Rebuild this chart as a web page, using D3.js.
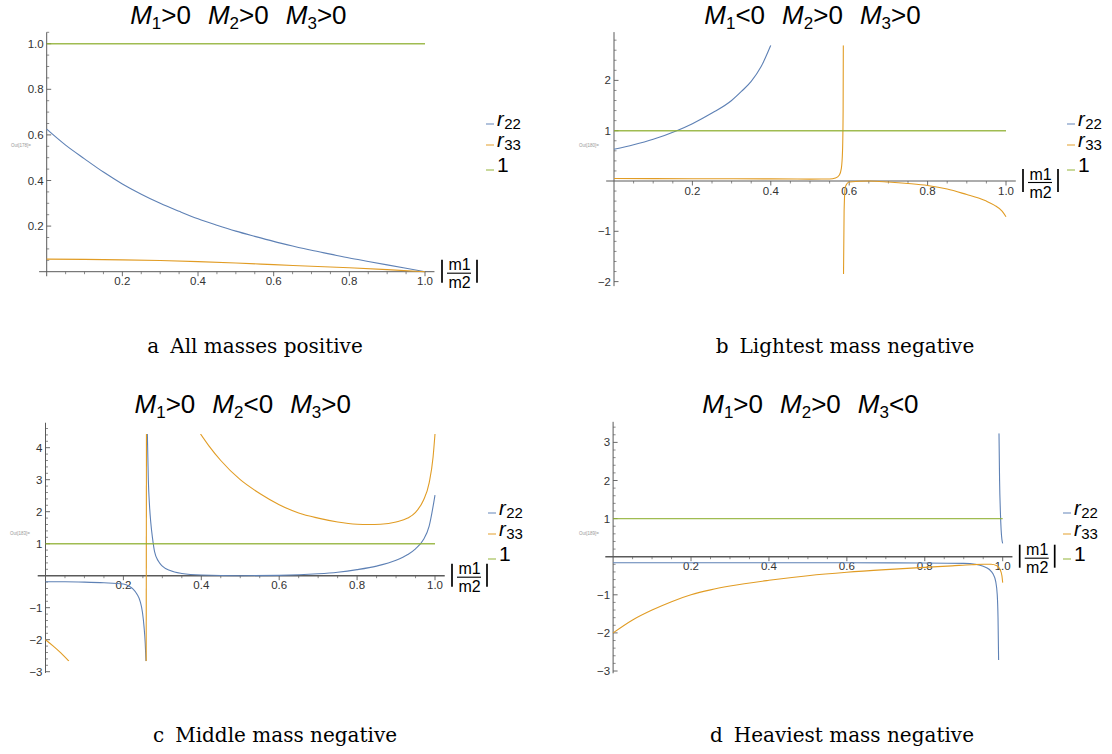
<!DOCTYPE html>
<html>
<head>
<meta charset="utf-8">
<script src="https://cdn.jsdelivr.net/npm/d3@7"></script>
<style>
  body { margin: 0; background: #fff; }
  text { font-family: "Liberation Sans", Arial, sans-serif; }
</style>
</head>
<body>
<svg id="fig" width="1112" height="754"></svg>
<script>
// ---- data ----
const xTicks = [0.2, 0.4, 0.6, 0.8, 1.0];
const yTicksA = [0.2, 0.4, 0.6, 0.8, 1.0];
const yTicksB = [-2, -1, 1, 2];
const yTicksC = [-3, -2, -1, 1, 2, 3, 4];
const yTicksD = [-3, -2, -1, 1, 2, 3];
const legendNames = ["22", "33", "1"];
const colors = ["#5e81b5", "#e19c24", "#8fb032"];

const oneLine = [[0, 1], [1, 1]];

const aR22 = [[0,0.625],[0.05,0.555],[0.1,0.495],[0.15,0.437],[0.2,0.385],[0.25,0.34],[0.3,0.3],
  [0.35,0.265],[0.4,0.232],[0.45,0.204],[0.5,0.178],[0.55,0.155],[0.6,0.133],[0.65,0.113],
  [0.7,0.094],[0.75,0.077],[0.8,0.06],[0.85,0.045],[0.9,0.03],[0.95,0.015],[1,0]];
const aR33 = [[0,0.055],[0.1,0.054],[0.2,0.052],[0.3,0.049],[0.4,0.044],[0.5,0.038],[0.6,0.031],
  [0.7,0.024],[0.8,0.017],[0.9,0.009],[1,0]];

const bR22 = [[0,0.63],[0.05,0.72],[0.1,0.83],[0.16,1.0],[0.2,1.14],[0.25,1.35],[0.3,1.6],
  [0.325,1.78],[0.35,1.98],[0.375,2.27],[0.4,2.7]];
const bR33a = [[0,0.05],[0.2,0.046],[0.4,0.042],[0.5,0.038],[0.55,0.04],[0.565,0.06],[0.575,0.12],
  [0.58,0.25],[0.583,0.6],[0.5845,1.4],[0.585,2.7]];
const bR33b = [[0.5855,-1.85],[0.587,-0.6],[0.59,-0.12],[0.6,-0.02],[0.65,0],[0.7,-0.02],[0.75,-0.05],
  [0.8,-0.09],[0.85,-0.16],[0.9,-0.27],[0.93,-0.34],[0.95,-0.4],[0.97,-0.48],[0.99,-0.6],[1.0,-0.71]];

const cR22a = [[0,-0.19],[0.05,-0.19],[0.1,-0.2],[0.15,-0.22],[0.2,-0.26],[0.215,-0.33],[0.225,-0.42],
  [0.235,-0.58],[0.243,-0.8],[0.249,-1.15],[0.253,-1.6],[0.256,-2.1],[0.258,-2.67]];
const cR22b = [[0.2615,4.43],[0.264,3.0],[0.267,2.2],[0.27,1.7],[0.275,1.15],[0.28,0.75],[0.29,0.45],
  [0.3,0.3],[0.32,0.16],[0.35,0.07],[0.4,0.02],[0.5,0.0],[0.6,0.01],[0.7,0.06],[0.75,0.11],[0.8,0.19],
  [0.85,0.3],[0.9,0.48],[0.93,0.66],[0.95,0.84],[0.97,1.12],[0.985,1.55],[1.0,2.52]];
const cR33a = [[0,-2.0],[0.02,-2.2],[0.04,-2.42],[0.06,-2.67]];
const cR33b = [[0.2585,-2.67],[0.2592,4.43]];
const cR33c = [[0.398,4.43],[0.42,4.05],[0.45,3.6],[0.5,3.0],[0.55,2.57],[0.6,2.22],[0.65,1.96],
  [0.7,1.8],[0.75,1.68],[0.8,1.61],[0.83,1.6],[0.86,1.61],[0.9,1.68],[0.93,1.8],[0.95,1.98],
  [0.97,2.35],[0.985,2.9],[0.995,3.7],[1.0,4.43]];

const dR22a = [[0,-0.16],[0.3,-0.16],[0.6,-0.16],[0.8,-0.165],[0.9,-0.175],[0.93,-0.2],[0.95,-0.25],
  [0.965,-0.33],[0.975,-0.45],[0.982,-0.65],[0.986,-1.0],[0.988,-1.6],[0.9895,-2.71]];
const dR22b = [[0.9905,3.24],[0.992,2.0],[0.994,1.2],[0.996,0.7],[0.998,0.45],[1.0,0.35]];
const dR33 = [[0,-2.0],[0.05,-1.66],[0.1,-1.4],[0.15,-1.18],[0.2,-1.0],[0.25,-0.87],[0.3,-0.77],
  [0.4,-0.62],[0.5,-0.5],[0.6,-0.41],[0.7,-0.34],[0.8,-0.28],[0.87,-0.24],[0.92,-0.21],[0.95,-0.2],
  [0.97,-0.2],[0.985,-0.24],[0.993,-0.33],[0.998,-0.5],[1.0,-0.68]];

const titleSigns = [[">", ">", ">"], ["<", ">", ">"], [">", "<", ">"], [">", ">", "<"]];
const captionLetters = ["a", "b", "c", "d"];
const captionTexts = ["All masses positive", "Lightest mass negative", "Middle mass negative", "Heaviest mass negative"];
const outLabels = ["Out[178]=", "Out[180]=", "Out[183]=", "Out[189]="];

// ---- layout ----
const panels = [
  { x0: 46.7, x1: 425, yZero: 271.7, unit: 228, yExt: [-0.02, 1.05], clip: [-0.05, 1.06],
    yTicks: yTicksA, minor: 0.05, fmt: d3.format(".1f"), axisW: 1,
    series: [[aR22], [aR33], [oneLine]], titleY: 24, capX: 255, capY: 353,
    outX: 11, outY: 147, legX: 486, legY: 124 },
  { x0: 614, x1: 1006, yZero: 181, unit: 50.3, yExt: [-2.09, 2.96], clip: [-1.85, 2.7],
    yTicks: yTicksB, minor: 0.2, fmt: null, axisW: 1,
    series: [[bR22], [bR33a, bR33b], [oneLine]], titleY: 24, capX: 845, capY: 353,
    outX: 579, outY: 147, legX: 1067, legY: 124 },
  { x0: 45.5, x1: 435, yZero: 575.7, unit: 32, yExt: [-3.04, 4.78], clip: [-2.67, 4.43],
    yTicks: yTicksC, minor: 0.2, fmt: null, axisW: 1.6,
    series: [[cR22a, cR22b], [cR33a, cR33b, cR33c], [oneLine]], titleY: 413, capX: 275, capY: 742,
    outX: 10, outY: 535, legX: 488, legY: 513 },
  { x0: 613.1, x1: 1002.7, yZero: 556.7, unit: 38.1, yExt: [-3.06, 3.54], clip: [-2.71, 3.24],
    yTicks: yTicksD, minor: 0.2, fmt: null, axisW: 1.6,
    series: [[dR22a, dR22b], [dR33], [oneLine]], titleY: 413, capX: 842, capY: 742,
    outX: 579, outY: 535, legX: 1063, legY: 513 }
];

const intFmt = d => (d < 0 ? "\u2212" + Math.abs(d) : String(d));
const svg = d3.select("#fig");
const defs = svg.append("defs");

panels.forEach((p, i) => {
  const x = d3.scaleLinear().domain([0, 1]).range([p.x0, p.x1]);
  const y = d3.scaleLinear().domain([0, 1]).range([p.yZero, p.yZero - p.unit]);
  const g = svg.append("g");
  const fmt = p.fmt || intFmt;

  // clip region for curves
  defs.append("clipPath").attr("id", "clip" + i)
    .append("rect")
    .attr("x", x(-0.01)).attr("width", x(1.01) - x(-0.01))
    .attr("y", y(p.clip[1])).attr("height", y(p.clip[0]) - y(p.clip[1]));

  const axisCol = "#5a5a5a";
  // x axis
  g.append("line")
    .attr("x1", x(-0.02)).attr("x2", x(1.025))
    .attr("y1", y(0)).attr("y2", y(0))
    .attr("stroke", axisCol).attr("stroke-width", p.axisW);
  const xMinor = d3.range(1, 21).map(k => k * 0.05).filter(v => Math.abs(v * 5 - Math.round(v * 5)) > 1e-6);
  g.selectAll(".xminor").data(xMinor).join("line")
    .attr("x1", d => x(d)).attr("x2", d => x(d))
    .attr("y1", y(0)).attr("y2", y(0) + 2.5)
    .attr("stroke", axisCol).attr("stroke-width", 0.7);
  g.selectAll(".xmajor").data(xTicks).join("line")
    .attr("x1", d => x(d)).attr("x2", d => x(d))
    .attr("y1", y(0)).attr("y2", y(0) + 4.5)
    .attr("stroke", axisCol).attr("stroke-width", 0.9);
  g.selectAll(".xlab").data(xTicks).join("text")
    .attr("x", d => x(d)).attr("y", y(0) + 13.5)
    .attr("text-anchor", "middle").attr("font-size", 11.5).attr("fill", "#333")
    .text(d => d3.format(".1f")(d));

  // y axis
  g.append("line")
    .attr("x1", x(0)).attr("x2", x(0))
    .attr("y1", y(p.yExt[0])).attr("y2", y(p.yExt[1]))
    .attr("stroke", axisCol).attr("stroke-width", 1);
  const n0 = Math.ceil(p.yExt[0] / p.minor), n1 = Math.floor(p.yExt[1] / p.minor);
  const yMinor = d3.range(n0, n1 + 1).map(k => k * p.minor)
    .filter(v => Math.abs(v) > 1e-9 && !p.yTicks.some(t => Math.abs(t - v) < 1e-6));
  g.selectAll(".yminor").data(yMinor).join("line")
    .attr("x1", x(0)).attr("x2", x(0) + 2.5)
    .attr("y1", d => y(d)).attr("y2", d => y(d))
    .attr("stroke", axisCol).attr("stroke-width", 0.7);
  g.selectAll(".ymajor").data(p.yTicks).join("line")
    .attr("x1", x(0)).attr("x2", x(0) + 4.5)
    .attr("y1", d => y(d)).attr("y2", d => y(d))
    .attr("stroke", axisCol).attr("stroke-width", 0.9);
  g.selectAll(".ylab").data(p.yTicks).join("text")
    .attr("x", x(0) - 3).attr("y", d => y(d) + 4)
    .attr("text-anchor", "end").attr("font-size", 11.5).attr("fill", "#333")
    .text(fmt);

  // tiny "Out[..]=" label
  g.append("text").attr("x", p.outX).attr("y", p.outY)
    .attr("font-size", 4.5).attr("fill", "#999").text(outLabels[i]);

  // curves
  const line = d3.line().x(d => x(d[0])).y(d => y(d[1])).curve(d3.curveMonotoneX);
  const curves = g.append("g").attr("clip-path", `url(#clip${i})`);
  p.series.forEach((segs, s) => {
    curves.selectAll(null).data(segs).join("path")
      .attr("d", line)
      .attr("fill", "none")
      .attr("stroke", colors[s])
      .attr("stroke-width", s === 2 ? 1.4 : 1.1)
      .attr("stroke-opacity", s === 2 ? 0.85 : 1);
  });

  // x axis label |m1/m2|
  const lx = p.x1 + 17, ay = y(0);
  const lab = g.append("g");
  lab.append("line").attr("x1", lx).attr("x2", lx).attr("y1", ay - 12).attr("y2", ay + 11)
    .attr("stroke", "#000").attr("stroke-width", 1.7);
  lab.append("line").attr("x1", lx + 35).attr("x2", lx + 35).attr("y1", ay - 12).attr("y2", ay + 11)
    .attr("stroke", "#000").attr("stroke-width", 1.7);
  lab.append("line").attr("x1", lx + 5).attr("x2", lx + 29).attr("y1", ay + 1.5).attr("y2", ay + 1.5)
    .attr("stroke", "#000").attr("stroke-width", 1.1);
  lab.append("text").attr("x", lx + 17.5).attr("y", ay - 1.5).attr("text-anchor", "middle")
    .attr("font-size", 16).text("m1");
  lab.append("text").attr("x", lx + 17.5).attr("y", ay + 16.5).attr("text-anchor", "middle")
    .attr("font-size", 16).text("m2");

  // legend
  const rowDy = [0, 21, 46];
  legendNames.forEach((name, k) => {
    const ly = p.legY + rowDy[k];
    g.append("line").attr("x1", p.legX).attr("x2", p.legX + 8).attr("y1", ly).attr("y2", ly)
      .attr("stroke", colors[k]).attr("stroke-width", 1.3).attr("stroke-opacity", 0.75);
    const t = g.append("text").attr("x", p.legX + 11).attr("font-size", 20);
    if (name === "1") {
      t.attr("y", ly + 1.5).attr("font-size", 21).text("1");
    } else {
      t.attr("y", ly + 1.5);
      t.append("tspan").attr("font-style", "italic").text("r");
      t.append("tspan").attr("font-size", 15).attr("dy", 3).attr("dx", 0.5).text(name);
    }
  });

  // title
  const cx = (p.x0 + p.x1) / 2 + 2.5;
  const tt = g.append("text").attr("x", cx).attr("y", p.titleY)
    .attr("text-anchor", "middle").attr("font-size", 26);
  titleSigns[i].forEach((sg, k) => {
    tt.append("tspan").attr("font-style", "italic").attr("dx", k === 0 ? 0 : 17).text("M");
    tt.append("tspan").attr("font-size", 17).attr("dy", 5).text(String(k + 1));
    tt.append("tspan").attr("dy", -5).text(sg + "0");
  });

  // caption
  const cap = g.append("text").attr("x", p.capX).attr("y", p.capY)
    .attr("text-anchor", "middle").attr("font-size", 20)
    .style("font-family", "'DejaVu Serif', 'Liberation Serif', serif");
  cap.append("tspan").text(captionLetters[i]);
  cap.append("tspan").attr("dx", 11).text(captionTexts[i]);
});
</script>
</body>
</html>
